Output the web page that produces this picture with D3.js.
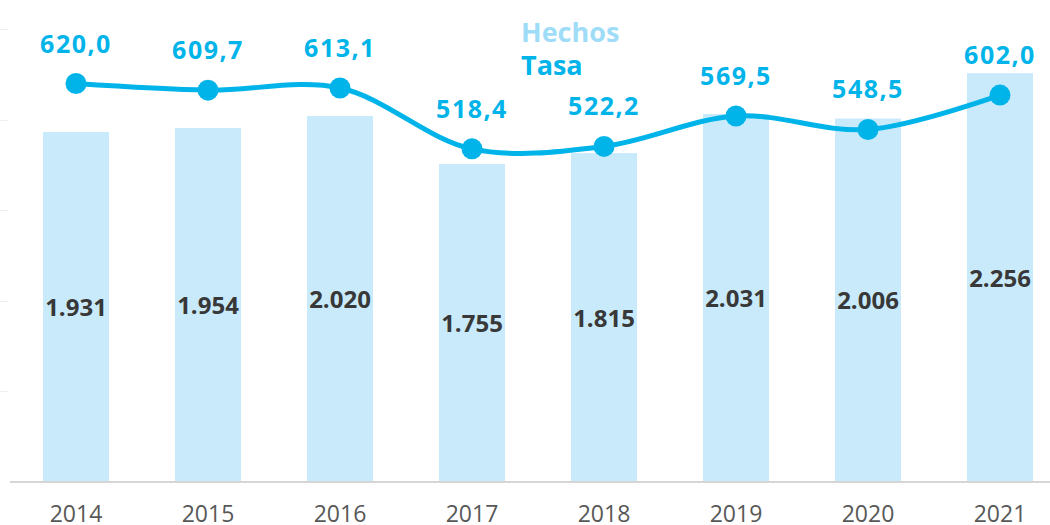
<!DOCTYPE html>
<html>
<head>
<meta charset="utf-8">
<script src="https://cdn.jsdelivr.net/npm/d3@7"></script>
<style>
  html, body { margin: 0; padding: 0; background: #fff; }
  svg { display: block; }
</style>
</head>
<body>
<svg id="chart" width="1050" height="525"></svg>
<script>
// Yearly data: recorded incidents (bars) and rate (line)
const years = ["2014", "2015", "2016", "2017", "2018", "2019", "2020", "2021"];
const hechos = [1931, 1954, 2020, 1755, 1815, 2031, 2006, 2256];
const tasa = [620.0, 609.7, 613.1, 518.4, 522.2, 569.5, 548.5, 602.0];
const gridTicks = [500, 1000, 1500, 2000, 2500];
const legendLabels = ["Hechos", "Tasa"];

const barColor = "#c8eafb";
const lineColor = "#00b4ea";
const legendColors = ["#9fdcf8", "#00b4ea"];

const svg = d3.select("#chart");
const baseY = 482;

const x = d3.scaleBand().domain(years).range([10, 1066]).paddingInner(0.5).paddingOuter(0.25);
const yBar = d3.scaleLinear().domain([0, 2660]).range([baseY, 0]);
const yLine = d3.scaleLinear().domain([0, 750]).range([baseY, 0]);

const fmtHechos = v => d3.format(",")(v).replace(/,/g, ".");
const fmtTasa = v => d3.format(".1f")(v).replace(".", ",");

// faint left tick stubs
svg.append("g").selectAll("line").data(gridTicks).join("line")
  .attr("x1", 0).attr("x2", 8)
  .attr("y1", d => Math.round(yBar(d)) + 0.5).attr("y2", d => Math.round(yBar(d)) + 0.5)
  .attr("stroke", "#f0f0f0").attr("stroke-width", 1);

// bars
svg.append("g").selectAll("rect").data(years).join("rect")
  .attr("x", d => x(d))
  .attr("width", x.bandwidth())
  .attr("y", (d, i) => yBar(hechos[i]))
  .attr("height", (d, i) => baseY - yBar(hechos[i]))
  .attr("fill", barColor);

// bar value labels
svg.append("g").selectAll("text").data(years).join("text")
  .attr("x", d => x(d) + x.bandwidth() / 2)
  .attr("y", (d, i) => (yBar(hechos[i]) + baseY) / 2 + 9)
  .attr("text-anchor", "middle")
  .attr("font-family", "'Open Sans', sans-serif")
  .attr("font-weight", 700)
  .attr("font-size", 24)
  .attr("fill", "#383838")
  .text((d, i) => fmtHechos(hechos[i]));

// x axis
const xAxis = d3.axisBottom(x).tickSize(0).tickPadding(0);
const gx = svg.append("g").attr("transform", `translate(0,${baseY})`).call(xAxis);
gx.select(".domain").remove();
gx.append("line")
  .attr("x1", 10).attr("x2", 1050).attr("y1", 0).attr("y2", 0)
  .attr("stroke", "#d6d6d6").attr("stroke-width", 2);
gx.selectAll(".tick text")
  .attr("y", 40)
  .attr("dy", 0)
  .attr("font-family", "'Open Sans', sans-serif")
  .attr("font-size", 23)
  .attr("fill", "#585858");

// rate line
const pts = years.map((d, i) => [x(d) + x.bandwidth() / 2, yLine(tasa[i])]);
const line = d3.line().curve(d3.curveCatmullRom.alpha(0.5));
svg.append("path")
  .attr("d", line(pts))
  .attr("fill", "none")
  .attr("stroke", lineColor)
  .attr("stroke-width", 5)
  .attr("stroke-linecap", "round");

svg.append("g").selectAll("circle").data(years).join("circle")
  .attr("cx", d => x(d) + x.bandwidth() / 2)
  .attr("cy", (d, i) => yLine(tasa[i]))
  .attr("r", 10.5)
  .attr("fill", lineColor);

// rate labels
svg.append("g").selectAll("text").data(years).join("text")
  .attr("x", d => x(d) + x.bandwidth() / 2)
  .attr("y", (d, i) => yLine(tasa[i]) - 31)
  .attr("text-anchor", "middle")
  .attr("font-family", "'Open Sans', sans-serif")
  .attr("font-weight", 700)
  .attr("font-size", 25)
  .attr("letter-spacing", 1.5)
  .attr("fill", lineColor)
  .text((d, i) => fmtTasa(tasa[i]));

// legend
svg.append("g").selectAll("text").data(legendLabels).join("text")
  .attr("x", 521)
  .attr("y", (d, i) => 42 + i * 33)
  .attr("font-family", "'Open Sans', sans-serif")
  .attr("font-weight", 700)
  .attr("font-size", 27)
  .attr("fill", (d, i) => legendColors[i])
  .text(d => d);
</script>
</body>
</html>
